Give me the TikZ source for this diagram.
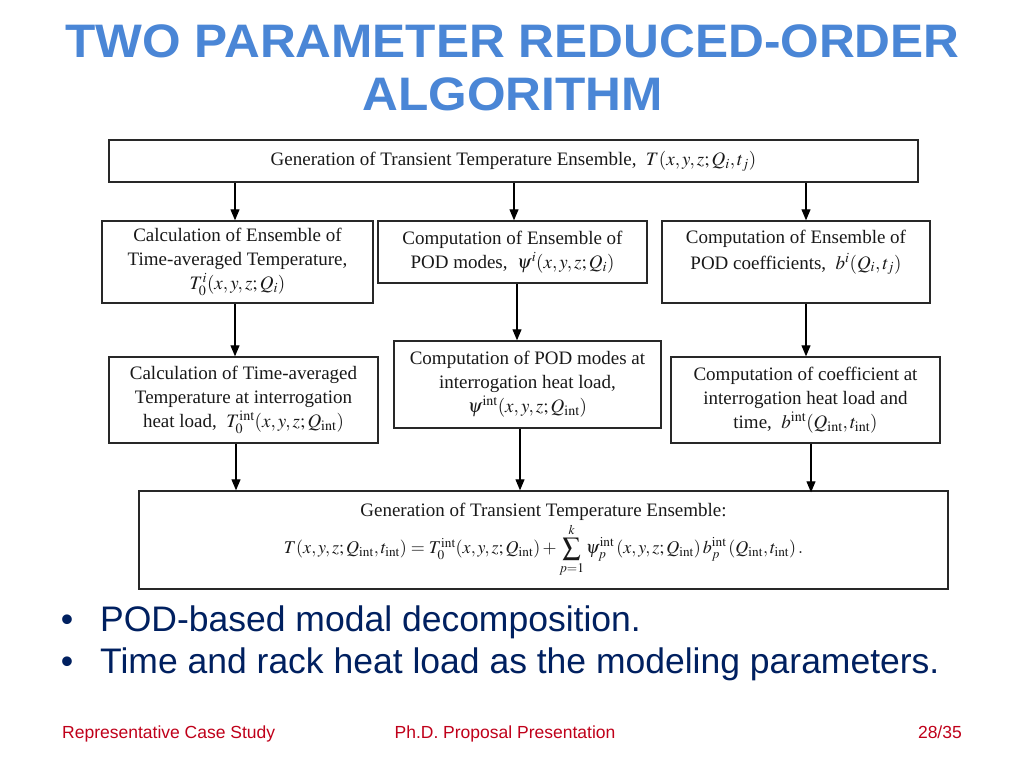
\documentclass[tikz,border=0pt]{standalone}
\usepackage{mathptmx}
\usepackage{amsmath}
\usepackage{fontspec}
\setmainfont{Liberation Serif}
\newfontfamily\titlefont{Liberation Sans}
\usetikzlibrary{arrows.meta,calc}
\definecolor{titleblue}{RGB}{74,134,214}
\definecolor{navy}{RGB}{0,32,96}
\definecolor{footred}{RGB}{192,0,26}
\definecolor{boxline}{RGB}{40,40,40}
\newcommand{\tint}{\mathrm{int}}
\tikzset{
  flowbox/.style={draw=boxline, line width=1.4pt, rectangle, align=center, inner sep=0pt,
    font=\fontsize{19}{24}\selectfont, text=black!90},
  flowarrow/.style={draw=black, line width=1.1pt, -{Triangle[width=9pt,length=11pt]}},
  titletext/.style={font=\titlefont\bfseries\fontsize{47}{53}\selectfont, text=titleblue},
  bullettext/.style={font=\titlefont\fontsize{35.5}{42}\selectfont, text=navy, inner sep=0pt},
  foottext/.style={font=\titlefont\fontsize{17.5}{20}\selectfont, text=footred, inner sep=0pt}
}
\begin{document}
\begin{tikzpicture}[x=1pt,y=-1pt]
\useasboundingbox (0,0) rectangle (1024,768);
\fill[white] (0,0) rectangle (1024,768);

% title
\node[titletext, anchor=base, inner sep=0pt] (t1) at (512.5,57) {\scalebox{1.055}[1]{TWO PARAMETER REDUCED-ORDER}};
\node[titletext, anchor=base, inner sep=0pt] (t2) at (512.5,110) {\scalebox{1.055}[1]{ALGORITHM}};

% boxes
\node[flowbox, minimum width=809pt, minimum height=42pt] (top) at (513.5,161)
  {Generation of Transient Temperature Ensemble,\ \ $T(x,y,z;Q_i,t_j)$};
\node[flowbox, minimum width=271pt, minimum height=82pt] (A) at (237.5,262)
  {Calculation of Ensemble of\\Time-averaged Temperature,\\$T_0^i(x,y,z;Q_i)$};
\node[flowbox, minimum width=269pt, minimum height=62pt] (B) at (512.5,252)
  {Computation of Ensemble of\\POD modes,\ \ $\psi^i(x,y,z;Q_i)$};
\node[flowbox, minimum width=268pt, minimum height=82pt] (C) at (796,262)
  {Computation of Ensemble of\\[2pt]POD coefficients,\ \ $b^i(Q_i,t_j)$\\[-6pt]\strut};
\node[flowbox, minimum width=269pt, minimum height=86pt] (D) at (243.5,400)
  {Calculation of Time-averaged\\Temperature at interrogation\\heat load,\ \ $T_0^{\tint}(x,y,z;Q_{\tint})$};
\node[flowbox, minimum width=267pt, minimum height=87pt] (E) at (527.5,384.5)
  {Computation of POD modes at\\interrogation heat load,\\$\psi^{\tint}(x,y,z;Q_{\tint})$};
\node[flowbox, minimum width=269pt, minimum height=86pt] (F) at (805.5,400)
  {Computation of coefficient at\\interrogation heat load and\\time,\ \ $b^{\tint}(Q_{\tint},t_{\tint})$};
\node[flowbox, minimum width=809pt, minimum height=98pt] (G) at (543.5,540)
  {Generation of Transient Temperature Ensemble:\\[2pt]
   {\fontsize{18}{24}\selectfont$T(x,y,z;Q_{\tint},t_{\tint})=T_0^{\tint}(x,y,z;Q_{\tint})+\displaystyle\sum_{p=1}^{k}\psi_p^{\tint}\left(x,y,z;Q_{\tint}\right)b_p^{\tint}\left(Q_{\tint},t_{\tint}\right).$}};

% arrows
\draw[flowarrow] ([xshift=-2.5pt]A.north |- top.south) -- ([xshift=-2.5pt]A.north);
\draw[flowarrow] ([xshift=1.5pt]B.north |- top.south) -- ([xshift=1.5pt]B.north);
\draw[flowarrow] ([xshift=10pt]C.north |- top.south) -- ([xshift=10pt]C.north);

\draw[flowarrow] ([xshift=-2.5pt]A.south) -- ([xshift=-2.5pt]A.south |- D.north);
\draw[flowarrow] ([xshift=4.5pt]B.south) -- ([xshift=4.5pt]B.south |- E.north);
\draw[flowarrow] ([xshift=10pt]C.south) -- ([xshift=10pt]C.south |- F.north);

\draw[flowarrow] ([xshift=-7.5pt]D.south) -- ([xshift=-7.5pt]D.south |- G.north);
\draw[flowarrow] ([xshift=-7.5pt]E.south) -- ([xshift=-7.5pt]E.south |- G.north);
\draw[flowarrow] ([xshift=5.5pt]F.south) -- ([xshift=5.5pt,yshift=-2pt]F.south |- G.north);

% bullets
\node[bullettext, anchor=base] (b1dot) at (67,631) {•};
\node[bullettext, anchor=base west] (b1) at (100,631) {POD-based modal decomposition.};
\node[bullettext, anchor=base] (b2dot) at (67,673) {•};
\node[bullettext, anchor=base west] (b2) at (100,673) {Time and rack heat load as the modeling parameters.};

% footer
\node[foottext, anchor=base west] (f1) at (62,738) {Representative Case Study};
\node[foottext, anchor=base] (f2) at (505,738) {Ph.D. Proposal Presentation};
\node[foottext, anchor=base east] (f3) at (962,738) {28/35};
\end{tikzpicture}
\end{document}
